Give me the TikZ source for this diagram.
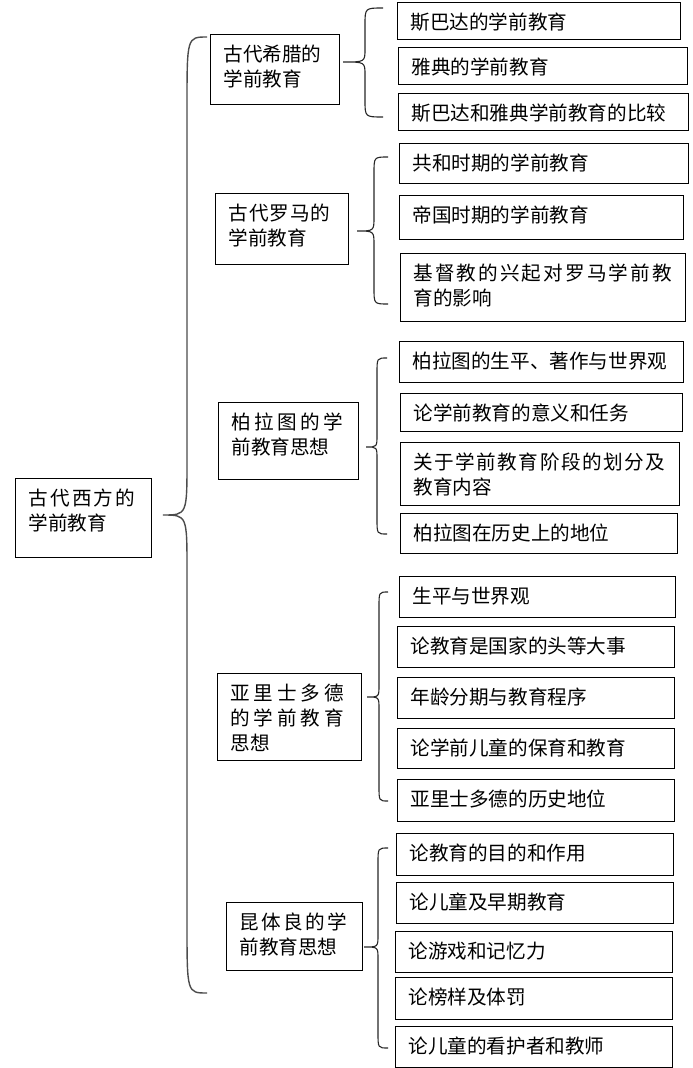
\documentclass[tikz,border=0pt]{standalone}
\usepackage{fontspec}
\newfontfamily\cjk{Noto Sans CJK SC}
\def\lsloop#1{\ifx#1\relax\else#1\kern\lsamt\relax\expandafter\lsloop\fi}
\newcommand\ls[2]{{\def\lsamt{#1pt}\lsloop#2\relax}}
\newcommand\mlines[1]{\vtop{\baselineskip=25pt\lineskiplimit=-20pt\halign{##\hfil\cr#1\crcr}}}
\newcommand\drawbrace[9]{%
  \draw[#1] (#2,#3) .. controls (#5,#3) .. (#5,#3+#8) -- (#5,#7-#9)
    .. controls (#5,#7) .. (#6,#7) .. controls (#5,#7) .. (#5,#7+#9)
    -- (#5,#4-#8) .. controls (#5,#4) .. (#2,#4);}
\tikzset{
  box/.style={draw=black, line width=0.9pt, inner sep=0pt, outer sep=0pt, anchor=north west},
  txt/.style={font=\cjk\fontsize{19.6}{25}\selectfont, inner sep=0pt, outer sep=0pt, anchor=base west, text=black},
  bracestyle/.style={draw=black!85, line width=1.1pt},
  mainbrace/.style={draw=black!70, line width=1.4pt}
}
\newcommand\bx[6]{% name, left, top, right, bottom, text
  \node[box, minimum width=#4-#2, minimum height=#5-#3] (#1) at (#2,#3) {};
  \node[txt] (#1t) at ([shift={(13.5,27.4)}]#1.north west) {\mlines{#6}};}
\begin{document}
\begin{tikzpicture}[x=1pt,y=-1pt]
\useasboundingbox (0,0) rectangle (693,1068);
% main
\bx{main}{15}{478}{151}{557}{\ls{2.2}{古代西方的}\cr 学前教育}
% groups
\bx{g1}{210}{34}{339}{104}{古代希腊的\cr 学前教育}
\bx{g2}{215}{193}{348}{264}{\ls{1.0}{古代罗马的}\cr 学前教育}
\bx{g3}{218}{402}{358}{479}{\ls{3.4}{柏拉图的学}\cr 前教育思想}
\bx{g4}{217}{673}{361}{760}{\ls{3.8}{亚里士多德}\cr \ls{3.8}{的学前教育}\cr 思想}
\bx{g5}{226}{902}{362}{970}{\ls{2.4}{昆体良的学}\cr 前教育思想}
% items
\bx{b1}{397}{2}{680}{39}{斯巴达的学前教育}
\bx{b2}{398}{47}{687}{84}{雅典的学前教育}
\bx{b3}{398}{93}{688}{130}{斯巴达和雅典学前教育的比较}
\bx{b4}{399}{143}{688}{183}{共和时期的学前教育}
\bx{b5}{399}{195}{683}{239}{帝国时期的学前教育}
\bx{b6}{400}{253}{685}{321}{\ls{2.1}{基督教的兴起对罗马学前教}\cr 育的影响}
\bx{b7}{399}{341}{683}{382}{柏拉图的生平、著作与世界观}
\bx{b8}{400}{393}{682}{431}{论学前教育的意义和任务}
\bx{b9}{400}{442}{679}{505}{\ls{1.5}{关于学前教育阶段的划分及}\cr 教育内容}
\bx{b10}{400}{513}{677}{553}{柏拉图在历史上的地位}
\bx{b11}{399}{576}{675}{617}{生平与世界观}
\bx{b12}{397}{626}{674}{667}{论教育是国家的头等大事}
\bx{b13}{397}{677}{674}{718}{年龄分期与教育程序}
\bx{b14}{397}{728}{674}{768}{论学前儿童的保育和教育}
\bx{b15}{397}{779}{674}{821}{亚里士多德的历史地位}
\bx{b16}{396}{833}{673}{875}{论教育的目的和作用}
\bx{b17}{396}{882}{673}{923}{论儿童及早期教育}
\bx{b18}{395}{931}{672}{972}{论游戏和记忆力}
\bx{b19}{395}{977}{672}{1019}{论榜样及体罚}
\bx{b20}{395}{1026}{672}{1067}{论儿童的看护者和教师}
% braces
\drawbrace{mainbrace}{207}{37}{993}{187}{163}{515}{70}{55}
\drawbrace{bracestyle}{383}{8}{117}{365}{343}{62}{17}{13}
\drawbrace{bracestyle}{388}{157}{304}{374}{357}{231}{16}{14}
\drawbrace{bracestyle}{387}{358}{534}{377}{366}{447}{15}{12}
\drawbrace{bracestyle}{388}{592}{801}{379}{367}{697}{15}{12}
\drawbrace{bracestyle}{388}{848}{1048}{378}{364}{947}{15}{12}
\end{tikzpicture}
\end{document}
